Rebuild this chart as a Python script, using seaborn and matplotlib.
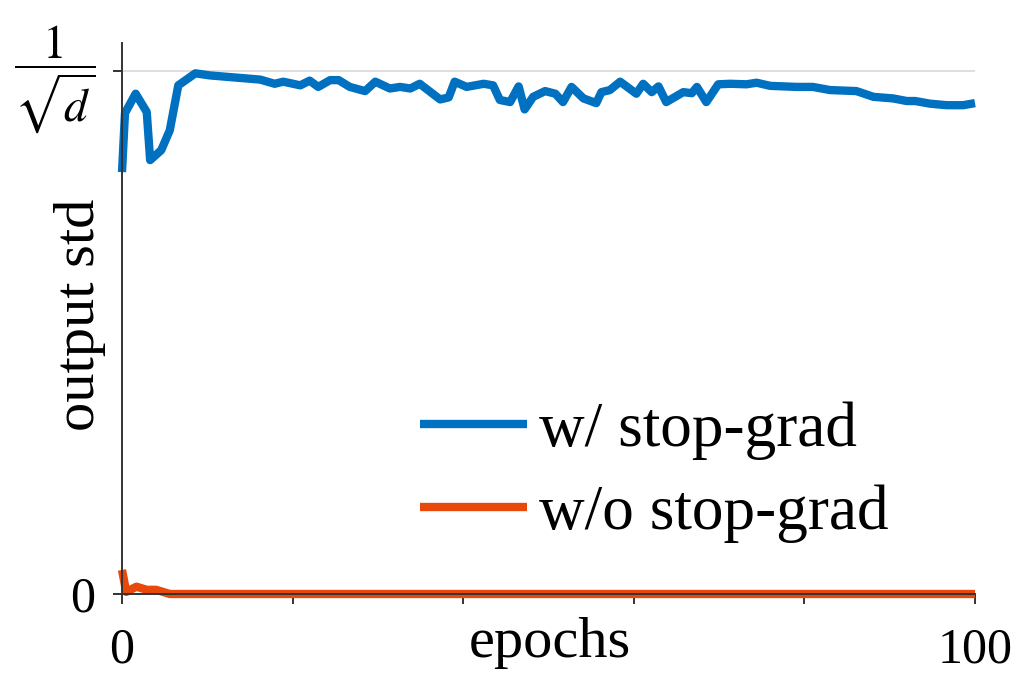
import matplotlib
matplotlib.use("Agg")
import matplotlib.pyplot as plt
import matplotlib.transforms as mtransforms
import seaborn as sns
import pandas as pd
import numpy as np

# ---- data ----
blue_epochs = [0, 0.35, 1.6, 2.9, 3.3, 4.6, 5.6, 6.6, 8.6, 10.3,
               16.2, 17.9, 18.9, 20.9, 22, 23, 24.4, 25.4, 26.7, 28.5,
               29.7, 31.4, 32.6, 33.8, 34.9, 37.3, 38.3, 39, 40.4, 42.4,
               43.5, 44.3, 45.5, 46.5, 47.2, 48.2, 49.6, 50.8, 51.7, 52.7,
               54.1, 55.6, 56.2, 57.2, 58.4, 60.3, 61.1, 62.1, 62.9, 63.8,
               65.8, 66.8, 67.4, 68.5, 69.9, 71.3, 73.2, 74.4, 76, 79.1,
               81, 83, 86.1, 88.1, 90.4, 92, 93, 94.7, 96.7, 98.6, 100]
blue_std = [0.807, 0.92, 0.957, 0.922, 0.83, 0.849, 0.887, 0.973, 0.996, 0.992,
            0.984, 0.976, 0.980, 0.973, 0.982, 0.970, 0.983, 0.983, 0.970, 0.962,
            0.980, 0.967, 0.970, 0.967, 0.976, 0.946, 0.950, 0.980, 0.970, 0.976,
            0.973, 0.945, 0.941, 0.971, 0.927, 0.951, 0.962, 0.957, 0.941, 0.970,
            0.948, 0.939, 0.960, 0.964, 0.980, 0.957, 0.976, 0.960, 0.971, 0.941,
            0.960, 0.958, 0.970, 0.941, 0.975, 0.976, 0.975, 0.978, 0.972, 0.970,
            0.970, 0.964, 0.962, 0.951, 0.948, 0.943, 0.943, 0.938, 0.935, 0.935, 0.939]
orange_epochs = [0, 0.5, 1.7, 2.9, 4, 5.6, 100]
orange_std = [0.046, 0.004, 0.014, 0.008, 0.008, 0.0, 0.0]

series_names = ["w/ stop-grad", "w/o stop-grad"]
series_colors = ["#0070C0", "#E8480A"]
x_tick_labels = ["0", "100"]
y_tick_labels = ["0", r"$\dfrac{1}{\sqrt{d}}$"]
x_label = "epochs"
y_label = "output std"

df = pd.concat([
    pd.DataFrame({"epoch": blue_epochs, "std": blue_std, "series": series_names[0]}),
    pd.DataFrame({"epoch": orange_epochs, "std": orange_std, "series": series_names[1]}),
], ignore_index=True)

sns.set_theme(style="white")
plt.rcParams["font.family"] = ["Liberation Serif", "DejaVu Serif"]
plt.rcParams["mathtext.fontset"] = "stix"
plt.rcParams["text.color"] = "black"
plt.rcParams["axes.labelcolor"] = "black"
plt.rcParams["xtick.color"] = "black"
plt.rcParams["ytick.color"] = "black"

fig = plt.figure(figsize=(10.34, 6.77), dpi=100)
ax = fig.add_axes([122 / 1034, 1 - 594 / 677, (975 - 122) / 1034, (594 - 43) / 677])

ax.axhline(1.0, color="#d9d9d9", lw=1.2, zorder=0)

sns.lineplot(data=df, x="epoch", y="std", hue="series", hue_order=series_names,
             palette=series_colors, estimator=None, sort=False, lw=6.0, ax=ax,
             legend=True)
for ln in ax.get_lines():
    ln.set_clip_on(False)
    ln.set_solid_capstyle("butt")
    ln.set_solid_joinstyle("round")

ax.set_xlim(0, 100)
ax.set_ylim(0, 1.054)

for s in ["top", "right"]:
    ax.spines[s].set_visible(False)
for s in ["left", "bottom"]:
    ax.spines[s].set_color("#333333")
    ax.spines[s].set_linewidth(1.4)

ax.set_xticks([0, 100])
ax.set_xticklabels(x_tick_labels)
ax.set_xticks([20, 40, 60, 80], minor=True)
ax.set_yticks([0, 1])
ax.set_yticklabels(y_tick_labels)
ax.tick_params(axis="x", which="both", direction="out", length=7, width=1.4,
               color="#333333", labelcolor="black", labelsize=36, pad=17, bottom=True)
ax.tick_params(axis="y", which="both", direction="out", length=6.5, width=1.4,
               color="#333333", labelcolor="black", labelsize=36, pad=13, left=True)

# the fraction label: slightly smaller and lifted so the bar sits on the tick
frac_label = ax.get_yticklabels()[1]
frac_label.set_fontsize(34)
frac_label.set_transform(frac_label.get_transform() +
                         mtransforms.ScaledTranslation(0, 16 / 72, fig.dpi_scale_trans))

ax.set_xlabel(x_label, fontsize=42)
ax.xaxis.label.set_va("baseline")
ax.xaxis.set_label_coords(0.502, -0.1143)
ax.set_ylabel(y_label, fontsize=42)
ax.yaxis.label.set_va("center")
ax.yaxis.set_label_coords(-0.049, 0.506)

handles, labels = ax.get_legend_handles_labels()
leg = ax.legend(handles, labels, loc="upper left", bbox_to_anchor=(0.349, 0.35),
                frameon=False, fontsize=45.5, handlelength=1.7, handletextpad=0.18,
                labelspacing=0.4, borderpad=0, borderaxespad=0)
for lh in leg.get_lines():
    lh.set_linewidth(6.0)
    lh.set_solid_capstyle("butt")

fig.savefig("out.png", dpi=100)
